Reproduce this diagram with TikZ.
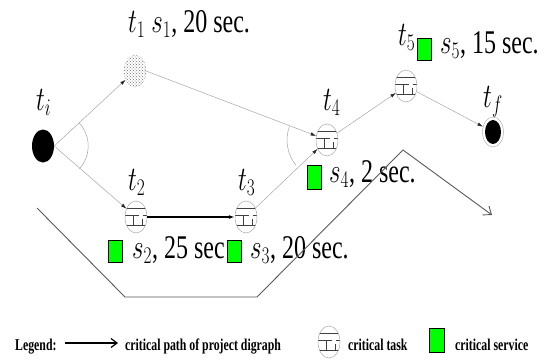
\documentclass[tikz,border=0pt]{standalone}
\usepackage{fontspec}
\setmainfont{Liberation Serif}
\usetikzlibrary{arrows.meta,patterns,shapes.geometric,calc}
\begin{document}
\begin{tikzpicture}[x=1pt,y=-1pt,
  lbl/.style={font=\fontsize{24}{24}\selectfont, yscale=1.38, inner sep=0pt, anchor=base west},
  leg/.style={font=\fontsize{11.8}{12}\selectfont\bfseries, yscale=1.4, inner sep=0pt, anchor=base west},
  task/.style={ellipse, minimum width=22pt, minimum height=32pt, inner sep=0pt, draw=gray!70, line width=0.5pt,
    path picture={
      \begin{scope}[shift={(path picture bounding box.center)}, x=1pt, y=1pt]
        \draw[black!75, line width=0.55pt]
          (-12,8.5) -- (12,8.5)
          (-12,-8.5) -- (12,-8.5)
          (-12,1.5) -- (3,1.5)
          (-2.5,1.5) -- (-2.5,-8.5)
          (6.5,1.5) -- (12,1.5)
          (6.5,-1.5) -- (6.5,-8.5);
      \end{scope}}},
  edge/.style={draw=gray!70, line width=0.5pt, -{Latex[length=5.5pt,width=3.5pt,color=black!85]}},
  crit/.style={draw=black, line width=1.2pt, -{Latex[length=6pt,width=4pt]}},
  svc/.style={rectangle, draw=black, line width=0.9pt, fill=green, minimum width=14pt, minimum height=22pt, inner sep=0pt},
  outline/.style={draw=black!65, line width=0.9pt}
]
\useasboundingbox (0,0) rectangle (544,360);

% nodes
\node[ellipse, fill=black, minimum width=22pt, minimum height=33pt, inner sep=0pt] (ti) at (43,146) {};
\node[ellipse, draw=gray!80, densely dotted, pattern=crosshatch dots, pattern color=black!55, minimum width=22pt, minimum height=32pt, inner sep=0pt] (t1) at (135,71) {};
\node[task] (t2) at (136,217) {};
\node[task] (t3) at (246,217) {};
\node[task] (t4) at (327,140) {};
\node[task] (t5) at (406,86) {};
\node[ellipse, draw=gray!60, line width=0.5pt, minimum width=21pt, minimum height=30pt, inner sep=0pt] (tf) at (493,132) {};
\node[ellipse, fill=black, minimum width=16pt, minimum height=24pt, inner sep=0pt] (tfin) at (493,132) {};

% labels
\node[lbl] (lti) at (36,110) {$t_i$};
\node[lbl] (lt1) at (128,32) {$t_1$ $s_1$, 20 sec.};
\node[lbl] (lt2) at (128,190) {$t_2$};
\node[lbl] (lt3) at (238,190) {$t_3$};
\node[lbl] (lt4) at (323,110) {$t_4$};
\node[lbl] (lt5) at (398,45) {$t_5$};
\node[lbl] (ltf) at (483,107) {$t_f$};

\node[svc] (q5) at (424.5,49) {};
\node[lbl] (ls5) at (440,53) {$s_5$, 15 sec.};
\node[svc, minimum height=24pt] (q4) at (314,177) {};
\node[lbl] (ls4) at (329,182) {$s_4$, 2 sec.};
\node[svc] (q2) at (115.5,251.5) {};
\node[lbl] (ls2) at (132,258) {$s_2$, 25 sec};
\node[svc] (q3) at (234.5,251.5) {};
\node[lbl] (ls3) at (250,258) {$s_3$, 20 sec.};

% edges
\draw[edge] (ti.east) -- (t1);
\draw[edge] (ti.east) -- (t2);
\draw[edge] (t1.east) -- (t4);
\draw[crit] (t2) -- (t3);
\draw[edge] (t3) -- (t4);
\draw[edge] (t4) -- (t5);
\draw[edge] (t5) -- (tf);

% arcs
\draw[gray!70, line width=0.5pt] ($(ti.east)+(-43:34)$) arc[start angle=-43, end angle=42, radius=34];
\draw[gray!70, line width=0.5pt] ($(t4.center)+(141:40)$) arc[start angle=141, end angle=200, radius=40];

% big outline arrow
\coordinate (p0) at (37,208);
\coordinate (p1) at (125,297);
\coordinate (p2) at (257,297);
\coordinate (p3) at (403,150);
\coordinate (p4) at (492,215);
\draw[outline, -{Straight Barb[length=7pt,width=11pt]}] (p0) -- (p1) -- (p2) -- (p3) -- (p4);

% legend
\node[leg] (lg) at (15,350) {Legend:};
\coordinate (la) at (65,343);
\coordinate (lb) at (118,343);
\draw[black, line width=1.2pt, -{Straight Barb[length=6pt,width=9pt]}] (la) -- (lb);
\node[leg] (lgp) at (125,350) {critical path of project digraph};
\node[task] (lgt) at (329,342) {};
\node[leg] (lgtt) at (348,350) {critical task};
\node[svc, minimum width=15pt, minimum height=24pt] (lgs) at (436.5,340) {};
\node[leg] (lgst) at (455,350) {critical service};
\end{tikzpicture}
\end{document}
